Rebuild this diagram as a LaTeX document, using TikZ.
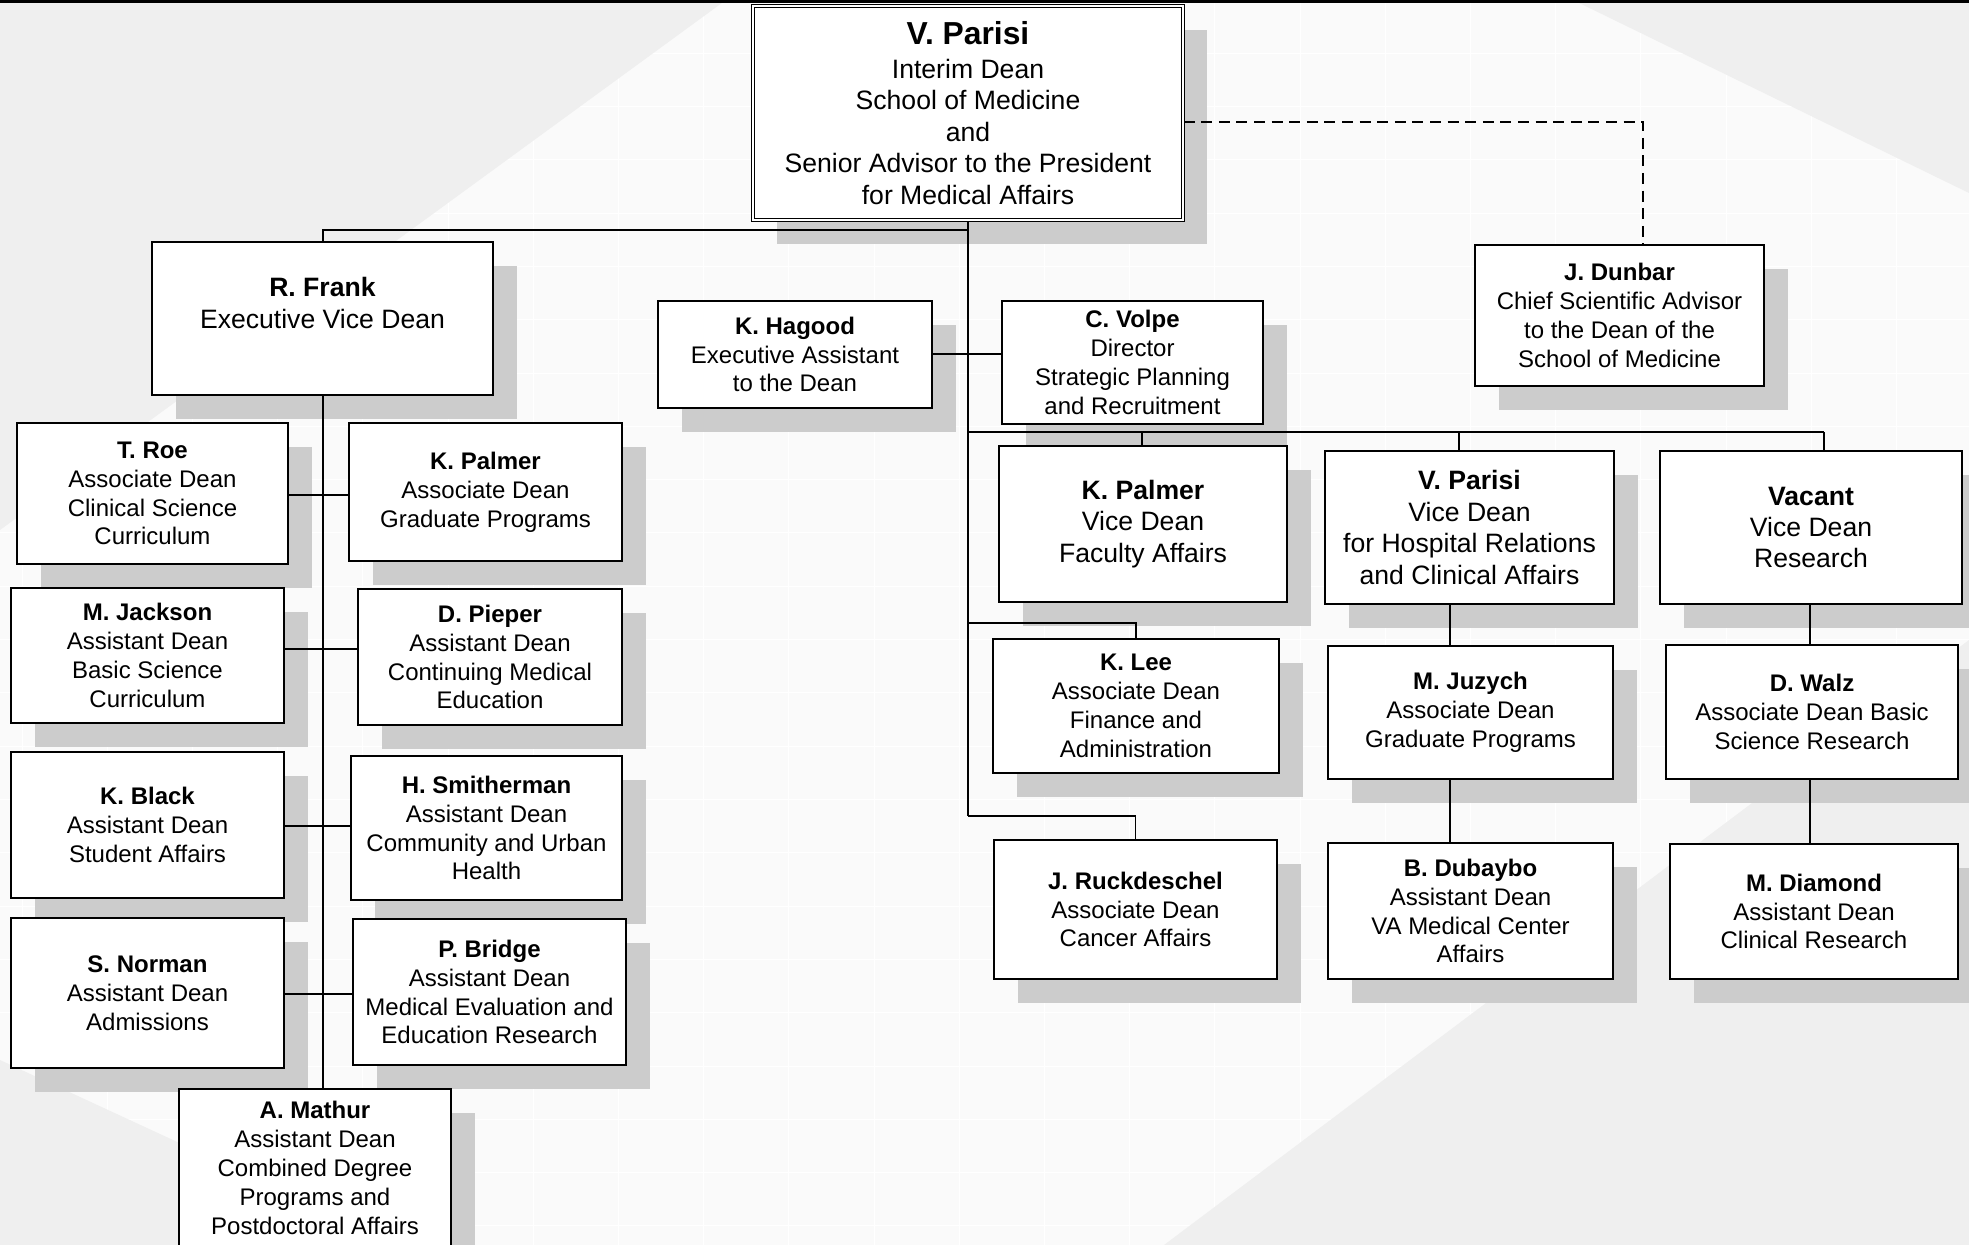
\documentclass[tikz,border=0pt]{standalone}
\usepackage{fontspec}
\setmainfont{Liberation Sans}
\usetikzlibrary{calc}
\pgfdeclarelayer{bg}\pgfdeclarelayer{shad}\pgfdeclarelayer{lines}
\pgfsetlayers{bg,shad,lines,main}
\definecolor{shadowc}{HTML}{CCCCCC}
\definecolor{bgl}{HTML}{FAFAFA}
\definecolor{bgd}{HTML}{EFEFEF}
\newcommand\smtxt{\fontsize{12}{14.45}\selectfont}
\newcommand\lgtxt{\fontsize{13.3}{15.7}\selectfont}
\newcommand\obox[7]{%
  \begin{pgfonlayer}{shad}\fill[shadowc] (#2+24,#3+24) rectangle (#4+24,#5+24);\end{pgfonlayer}
  \node[orgbox,#6,minimum width={(#4-#2)*0.5pt},minimum height={(#5-#3)*0.5pt}] (#1) at ({(#2+#4)/2},{(#3+#5)/2}) {#7};}
\tikzset{
  orgbox/.style={draw,line width=0.9pt,fill=white,inner sep=0pt,align=center,rectangle},
  small/.style={font=\smtxt},
  large/.style={font=\lgtxt},
  topbox/.style={font=\lgtxt,double,line width=0.6pt,double distance=1pt},
  thickline/.style={line width=1pt},
  thinline/.style={line width=0.6pt},
  dsh/.style={line width=0.6pt,dash pattern=on 5.5pt off 3.3pt}
}
\begin{document}
\begin{tikzpicture}[x=0.5pt,y=-0.5pt]
\useasboundingbox (0,0) rectangle (1969,1245);
\begin{pgfonlayer}{bg}
  \fill[bgl] (0,0) rectangle (1969,1245);
  \foreach \i in {0,...,23} {\draw[white,line width=0.5pt] ({22+85.2*\i},0) -- ++(0,1245);}
  \foreach \j in {1,...,23} {\draw[white,line width=0.5pt] (0,{53.3*\j}) -- ++(1969,0);}
  \fill[bgd] (0,0) -- (726,0) -- (0,530) -- cycle;
  \fill[bgd] (1573,0) -- (1969,0) -- (1969,193) -- cycle;
  \fill[bgd] (1969,640) -- (1969,1245) -- (1164,1245) -- cycle;
  \fill[bgd] (0,1060) -- (400,1245) -- (0,1245) -- cycle;
  \fill[black] (0,0) rectangle (1969,3);
\end{pgfonlayer}

\obox{top}{753}{6}{1183}{220}{topbox}{{\fontsize{15.9}{17}\selectfont\bfseries V. Parisi}\\[1.3pt]Interim Dean\\School of Medicine\\and\\Senior Advisor to the President\\for Medical Affairs}
\obox{rf}{152}{242}{493}{395}{large}{\textbf{R. Frank}\\Executive Vice Dean\\\mbox{}}
\obox{roe}{17}{423}{288}{564}{small}{\textbf{T. Roe}\\Associate Dean\\Clinical Science\\Curriculum}
\obox{kpg}{349}{423}{622}{561}{small}{\textbf{K. Palmer}\\Associate Dean\\Graduate Programs}
\obox{jack}{11}{588}{284}{723}{small}{\textbf{M. Jackson}\\Assistant Dean\\Basic Science\\Curriculum}
\obox{piep}{358}{589}{622}{725}{small}{\textbf{D. Pieper}\\Assistant Dean\\Continuing Medical\\Education}
\obox{black}{11}{752}{284}{898}{small}{\textbf{K. Black}\\Assistant Dean\\Student Affairs}
\obox{smith}{351}{756}{622}{900}{small}{\textbf{H. Smitherman}\\Assistant Dean\\Community and Urban\\Health}
\obox{norm}{11}{918}{284}{1068}{small}{\textbf{S. Norman}\\Assistant Dean\\Admissions}
\obox{brid}{353}{919}{626}{1065}{small}{\textbf{P. Bridge}\\Assistant Dean\\Medical Evaluation and\\Education Research}
\obox{mat}{179}{1089}{451}{1247}{small}{\textbf{A. Mathur}\\Assistant Dean\\Combined Degree\\Programs and\\Postdoctoral Affairs}
\obox{hag}{658}{301}{932}{408}{small}{\textbf{K. Hagood}\\Executive Assistant\\to the Dean}
\obox{vol}{1002}{301}{1263}{424}{small}{\textbf{C. Volpe}\\Director\\Strategic Planning\\and Recruitment}
\obox{dun}{1475}{245}{1764}{386}{small}{\textbf{J. Dunbar}\\Chief Scientific Advisor\\to the Dean of the\\School of Medicine}
\obox{kpv}{999}{446}{1287}{602}{large}{\textbf{K. Palmer}\\Vice Dean\\Faculty Affairs}
\obox{vdp}{1325}{451}{1614}{604}{large}{\textbf{V. Parisi}\\Vice Dean\\for Hospital Relations\\and Clinical Affairs}
\obox{vac}{1660}{451}{1962}{604}{large}{\textbf{Vacant}\\Vice Dean\\Research}
\obox{lee}{993}{639}{1279}{773}{small}{\textbf{K. Lee}\\Associate Dean\\Finance and\\Administration}
\obox{juz}{1328}{646}{1613}{779}{small}{\textbf{M. Juzych}\\Associate Dean\\Graduate Programs}
\obox{walz}{1666}{645}{1958}{779}{small}{\textbf{D. Walz}\\Associate Dean Basic\\Science Research}
\obox{ruck}{994}{840}{1277}{979}{small}{\textbf{J. Ruckdeschel}\\Associate Dean\\Cancer Affairs}
\obox{dub}{1328}{843}{1613}{979}{small}{\textbf{B. Dubaybo}\\Assistant Dean\\VA Medical Center\\Affairs}
\obox{diam}{1670}{844}{1958}{979}{small}{\textbf{M. Diamond}\\Assistant Dean\\Clinical Research}

\coordinate (s1) at (968,230);
\coordinate (s2) at (968,623);
\coordinate (s3) at (968,816);
\coordinate (r1) at (968,432);
\coordinate (r2) at (1142,432);
\coordinate (r3) at (1459,432);
\coordinate (r4) at (1824,432);
\coordinate (dcorner) at (1643,122);
\coordinate (c1) at (322,495);
\coordinate (c2) at (322,649);
\coordinate (c3) at (322,826);
\coordinate (c4) at (322,994);
\coordinate (c5) at (1450,0);
\coordinate (c6) at (1810,0);

\begin{pgfonlayer}{lines}
  \draw[thickline] (top.south) -- (s2);
  \draw[thinline] (s2) -- (s3);
  \draw[thickline] (s1) -| (rf.north);
  \draw[thickline] (s2) -| (lee.north);
  \draw[thinline] (s3) -| (ruck.north);
  \draw[thickline] (hag.east) -- (hag.east -| vol.west);
  \draw[thickline] (rf.south) -- (rf.south |- mat.north);
  \draw[thickline] (roe.east |- c1) -- (kpg.west |- c1);
  \draw[thinline] (jack.east |- c2) -- (piep.west |- c2);
  \draw[thinline] (black.east |- c3) -- (smith.west |- c3);
  \draw[thinline] (norm.east |- c4) -- (brid.west |- c4);
  \draw[thinline] (r1) -- (r4);
  \draw[thickline] (r2) -- (r2 |- kpv.north);
  \draw[thinline] (r3) -- (r3 |- vdp.north);
  \draw[thinline] (r4) -- (r4 |- vac.north);
  \draw[thinline] (c5 |- vdp.south) -- (c5 |- juz.north);
  \draw[thinline] (c5 |- juz.south) -- (c5 |- dub.north);
  \draw[thinline] (c6 |- vac.south) -- (c6 |- walz.north);
  \draw[thinline] (c6 |- walz.south) -- (c6 |- diam.north);
  \draw[dsh] (top.east |- dcorner) -- (dcorner) -- (dcorner |- dun.north);
\end{pgfonlayer}
\end{tikzpicture}
\end{document}
